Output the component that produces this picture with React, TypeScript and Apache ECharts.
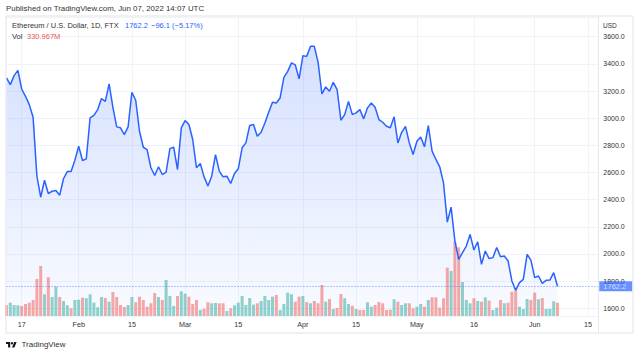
import React, { useEffect, useRef } from 'react';
import * as echarts from 'echarts';

const startDateUTC = Date.UTC(2022, 0, 13);
const totalDays = 157;

const closes = [
  3296, 3247, 3313, 3352, 3215, 3161, 3100, 3007, 2573, 2418,
  2543, 2445, 2462, 2468, 2433, 2554, 2607, 2607, 2690, 2793,
  2688, 2700, 3002, 3021, 3063, 3144, 3124, 3252, 3080, 2936,
  2929, 2879, 2936, 3191, 3132, 2904, 2786, 2769, 2635, 2578,
  2642, 2585, 2602, 2776, 2786, 2622, 2929, 2982, 2953, 2843,
  2635, 2666, 2568, 2500, 2573, 2732, 2610, 2568, 2573, 2519,
  2593, 2627, 2782, 2818, 2946, 2953, 2867, 2896, 2965, 3043,
  3117, 3112, 3149, 3301, 3345, 3407, 3392, 3289, 3460, 3455,
  3529, 3529, 3411, 3179, 3230, 3198, 3264, 3210, 2985, 3026,
  3124, 3026, 3039, 3063, 2995, 3076, 3112, 3080, 2990, 2970,
  2940, 2929, 3010, 2818, 2896, 2940, 2818, 2732, 2830, 2862,
  2789, 2946, 2757, 2696, 2642, 2524, 2235, 2345, 2095, 1960,
  2010, 2058, 2144, 2029, 2090, 1924, 2022, 1966, 1973, 2047,
  1980, 1985, 1948, 1801, 1732, 1789, 1813, 1997, 1955, 1826,
  1838, 1784, 1806, 1808, 1862, 1762.2,
];

// volume in millions
const volumes = [
  275, 333, 275, 268, 250, 300, 333, 400, 925, 1250,
  543, 968, 475, 733, 475, 375, 268, 193, 400, 408,
  458, 443, 543, 333, 218, 475, 450, 358, 600, 475,
  275, 225, 275, 475, 343, 483, 400, 233, 318, 575,
  475, 400, 900, 500, 250, 500, 618, 558, 483, 300,
  400, 150, 183, 343, 318, 325, 318, 318, 125, 193,
  268, 333, 500, 275, 450, 283, 318, 375, 500, 400,
  483, 525, 150, 300, 583, 543, 358, 483, 500, 350,
  318, 375, 318, 775, 358, 425, 175, 200, 550, 443,
  300, 258, 175, 150, 150, 343, 233, 275, 350, 318,
  150, 158, 418, 358, 275, 318, 318, 193, 233, 300,
  233, 400, 468, 468, 208, 443, 1208, 1125, 1858, 1718,
  850, 400, 318, 443, 375, 358, 468, 383, 150, 208,
  400, 318, 333, 608, 633, 233, 175, 425, 400, 583,
  418, 450, 175, 183, 368, 331,
];

// u = up bar, d = down bar
const volumeDirections = [
  'd','u','u','u','d','d','d','d','d','d',
  'u','d','u','u','d','u','u','d','u','u',
  'd','u','u','u','u','u','d','u','d','d',
  'd','d','u','u','d','d','d','d','d','d',
  'u','d','u','u','u','d','u','u','d','d',
  'd','u','d','d','u','u','d','d','u','d',
  'u','u','u','u','u','u','d','u','u','u',
  'u','d','u','u','u','u','d','d','u','d',
  'u','d','d','d','u','d','u','d','d','u',
  'u','d','u','d','d','u','u','d','d','d',
  'd','d','u','d','u','u','d','d','u','u',
  'd','u','d','d','d','d','d','u','d','d',
  'u','u','u','d','u','d','u','d','u','u',
  'd','u','d','d','d','u','u','u','d','d',
  'u','d','u','u','u','d',
];

const tickDates = ['2022-01-17', '2022-02-01', '2022-02-15', '2022-03-01', '2022-03-15', '2022-04-01', '2022-04-15', '2022-05-01', '2022-05-16', '2022-06-01', '2022-06-15'];
const tickLabels = ['17', 'Feb', '15', 'Mar', '15', 'Apr', '15', 'May', '16', 'Jun', '15'];

const yTicks = [1600, 1800, 2000, 2200, 2400, 2600, 2800, 3000, 3200, 3400, 3600];

const lastPrice = 1762.2;
const lastVolumeText = '330.967M';
const changeText = '\u221296.1 (\u22125.17%)';

const FONT = "'Liberation Sans', Arial, sans-serif";
const BLUE = '#2962ff';
const UP = 'rgba(38,166,154,0.5)';
const DOWN = 'rgba(239,83,80,0.5)';
const GRID_LINE = '#f0f3fa';
const TEXT = '#333';

const TV_LOGO_D = 'M14 22H7V11H0V4h14v18zM28 22h-8l7.5-18h8L28 22z';
let logoRegistered = false;

function buildDates(): string[] {
  const out: string[] = [];
  for (let i = 0; i < totalDays; i++) {
    out.push(new Date(startDateUTC + i * 86400000).toISOString().slice(0, 10));
  }
  return out;
}

export default function App() {
  const ref = useRef<HTMLDivElement>(null);

  useEffect(() => {
    if (!ref.current) return;
    if (!logoRegistered) {
      echarts.graphic.registerShape('tvlogo', echarts.graphic.extendPath(TV_LOGO_D, {}) as any);
      logoRegistered = true;
    }
    const chart = echarts.init(ref.current, undefined, { renderer: 'svg' });
    const dates = buildDates();
    const tickMap: Record<string, string> = {};
    tickDates.forEach((d, i) => (tickMap[d] = tickLabels[i]));
    const isTick = (_i: number, v: string) => tickMap[v] !== undefined;

    const gridLeft = 6.5;
    const gridWidth = 592.8;

    const option: any = {
      animation: false,
      backgroundColor: '#ffffff',
      textStyle: { fontFamily: FONT },
      grid: [
        { left: gridLeft, width: gridWidth, top: 17, bottom: 40 },
        { left: gridLeft, width: gridWidth, top: 216, bottom: 40 },
      ],
      xAxis: [
        {
          type: 'category',
          gridIndex: 0,
          data: dates,
          boundaryGap: false,
          axisLine: { show: false },
          axisTick: { show: false },
          axisLabel: {
            interval: isTick,
            formatter: (v: string) => tickMap[v] || '',
            color: TEXT,
            fontSize: 7.2,
            fontFamily: FONT,
            margin: 5,
          },
          splitLine: { show: true, interval: isTick, lineStyle: { color: GRID_LINE, width: 1 } },
        },
        {
          type: 'category',
          gridIndex: 1,
          data: dates,
          boundaryGap: false,
          show: false,
        },
      ],
      yAxis: [
        {
          type: 'value',
          gridIndex: 0,
          position: 'right',
          min: 1543.3,
          max: 3745,
          splitNumber: 11,
          minInterval: 200,
          maxInterval: 200,
          axisLine: { show: false },
          axisTick: { show: false },
          axisLabel: {
            showMinLabel: false,
            showMaxLabel: false,
            formatter: (v: number) => (yTicks.indexOf(Math.round(v)) >= 0 && Math.abs(v - Math.round(v)) < 1e-6 ? v.toFixed(1) : ''),
            color: TEXT,
            fontSize: 7,
            fontFamily: FONT,
            margin: 4,
          },
          splitLine: { show: true, lineStyle: { color: GRID_LINE, width: 1 } },
        },
        {
          type: 'value',
          gridIndex: 1,
          min: 0,
          max: 2500,
          show: false,
        },
      ],
      series: [
        {
          type: 'line',
          xAxisIndex: 0,
          yAxisIndex: 0,
          data: closes,
          symbol: 'none',
          silent: true,
          z: 1,
          lineStyle: { width: 0 },
          areaStyle: {
            origin: 'start',
            color: new echarts.graphic.LinearGradient(0, 0, 0, 1, [
              { offset: 0, color: 'rgba(41,98,255,0.28)' },
              { offset: 1, color: 'rgba(41,98,255,0.04)' },
            ]),
          },
        },
        {
          type: 'bar',
          xAxisIndex: 1,
          yAxisIndex: 1,
          barWidth: 3,
          z: 2,
          silent: true,
          data: volumes.map((v, i) => ({
            value: v,
            itemStyle: { color: volumeDirections[i] === 'u' ? UP : DOWN },
          })),
        },
        {
          type: 'line',
          xAxisIndex: 0,
          yAxisIndex: 0,
          data: closes,
          symbol: 'none',
          z: 3,
          silent: true,
          lineStyle: { color: BLUE, width: 1.5 },
          markLine: {
            silent: true,
            symbol: ['none', 'none'],
            lineStyle: { type: [1, 2], color: BLUE, width: 1, opacity: 0.7 },
            label: {
              show: true,
              position: 'end',
              distance: 0,
              formatter: lastPrice.toFixed(1),
              backgroundColor: BLUE,
              color: '#ffffff',
              fontSize: 7.5,
              fontFamily: FONT,
              padding: [1, 6, 1, 4],
            },
            data: [{ yAxis: lastPrice }],
          },
        },
      ],
      graphic: [
        {
          type: 'text',
          x: 6,
          y: 8.5,
          style: { text: 'Published on TradingView.com, Jun 07, 2022 14:07 UTC', fill: TEXT, font: `7.9px ${FONT}`, verticalAlign: 'middle' },
        },
        {
          type: 'rect',
          shape: { x: 6, y: 16, width: 627, height: 317 },
          style: { fill: 'none', stroke: '#e0e3eb', lineWidth: 1 },
          silent: true,
          z: 10,
        },
        {
          type: 'line',
          shape: { x1: 598.5, y1: 16, x2: 598.5, y2: 333 },
          style: { stroke: '#e6e8ee', lineWidth: 1 },
          z: 10,
        },
        {
          type: 'text',
          x: 12,
          y: 25,
          style: { text: 'Ethereum / U.S. Dollar, 1D, FTX', fill: TEXT, font: `7.5px ${FONT}`, verticalAlign: 'middle' },
          z: 10,
        },
        {
          type: 'text',
          x: 125,
          y: 25,
          style: { text: lastPrice.toFixed(1), fill: BLUE, font: `7.5px ${FONT}`, verticalAlign: 'middle' },
          z: 10,
        },
        {
          type: 'text',
          x: 151,
          y: 25,
          style: { text: changeText, fill: BLUE, font: `7.5px ${FONT}`, verticalAlign: 'middle' },
          z: 10,
        },
        {
          type: 'text',
          x: 12,
          y: 36,
          style: { text: 'Vol', fill: TEXT, font: `7.5px ${FONT}`, verticalAlign: 'middle' },
          z: 10,
        },
        {
          type: 'text',
          x: 27,
          y: 36,
          style: { text: lastVolumeText, fill: '#ef5350', font: `7.5px ${FONT}`, verticalAlign: 'middle' },
          z: 10,
        },
        {
          type: 'text',
          x: 603,
          y: 25,
          style: { text: 'USD', fill: TEXT, font: `6.5px ${FONT}`, verticalAlign: 'middle' },
          z: 10,
        },
        {
          type: 'tvlogo',
          x: 6,
          y: 340.8,
          scaleX: 0.3,
          scaleY: 0.3,
          style: { fill: '#131722' },
          z: 10,
        },
        {
          type: 'circle',
          shape: { cx: 12, cy: 343.2, r: 1.2 },
          style: { fill: '#131722' },
          z: 10,
        },
        {
          type: 'text',
          x: 21.5,
          y: 344.5,
          style: { text: 'TradingView', fill: TEXT, font: `8px ${FONT}`, verticalAlign: 'middle' },
          z: 10,
        },
      ],
    };

    chart.setOption(option);
    return () => chart.dispose();
  }, []);

  return (
    <div
      ref={ref}
      style={{ position: 'fixed', left: 0, top: 0, width: 640, height: 356, background: '#fff' }}
    />
  );
}
